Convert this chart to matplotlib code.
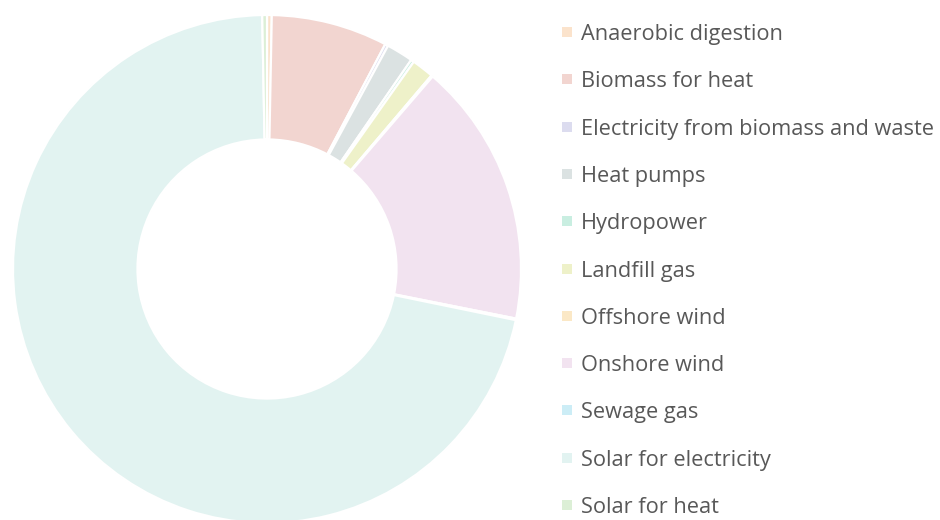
import matplotlib
matplotlib.use("Agg")
import matplotlib.pyplot as plt
from matplotlib.patches import Rectangle

categories = ["Anaerobic digestion", "Biomass for heat", "Electricity from biomass and waste",
              "Heat pumps", "Hydropower", "Landfill gas", "Offshore wind", "Onshore wind",
              "Sewage gas", "Solar for electricity", "Solar for heat"]
values = [0.3, 7.4, 0.2, 1.7, 0.2, 1.4, 0.1, 16.8, 0.1, 71.4, 0.3]
colors = ["#fbe3cc", "#f2d5d0", "#dcdcef", "#dbe2e2", "#c9eee1", "#eef1c9",
          "#fbe8c6", "#f2e3f0", "#ccedf6", "#e2f3f1", "#dcefd6"]

W, H = 940, 520
fig = plt.figure(figsize=(W / 100, H / 100), dpi=100)
fig.patch.set_facecolor("white")

cx, cy, R = 267, 269, 254
ax = fig.add_axes([(cx - R) / W, (H - cy - R) / H, 2 * R / W, 2 * R / H])
ax.pie(values, colors=colors, startangle=90, counterclock=False, radius=1.0,
       wedgeprops=dict(width=0.49, edgecolor="white", linewidth=1.6))
ax.set_xlim(-1, 1)
ax.set_ylim(-1, 1)
ax.set_aspect("equal")
ax.axis("off")

y0, dy = 32, 47.3
for i, (lab, col) in enumerate(zip(categories, colors)):
    y = y0 + i * dy
    fig.add_artist(Rectangle((562 / W, (H - y - 5) / H), 10 / W, 10 / H,
                             transform=fig.transFigure, facecolor=col, edgecolor="none"))
    fig.text(581 / W, (H - y) / H, lab, ha="left", va="center_baseline",
             fontsize=15.7, color="#585858", family=["Open Sans", "DejaVu Sans"])

fig.savefig("out.png", dpi=100, facecolor="white")
